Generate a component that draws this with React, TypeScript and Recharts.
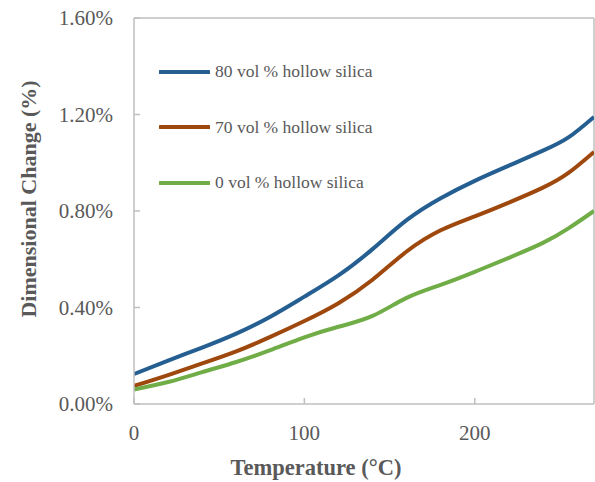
import React from 'react';
import { LineChart, Line, XAxis, YAxis, Legend, ReferenceLine } from 'recharts';

const temps = [0, 20, 40, 60, 80, 100, 120, 140, 160, 180, 200, 220, 240, 255, 270];
const vol80 = [0.124, 0.18, 0.234, 0.292, 0.362, 0.445, 0.533, 0.642, 0.762, 0.853, 0.925, 0.988, 1.05, 1.105, 1.19];
const vol70 = [0.075, 0.12, 0.168, 0.218, 0.278, 0.344, 0.418, 0.515, 0.632, 0.72, 0.778, 0.835, 0.897, 0.958, 1.045];
const vol0 = [0.06, 0.091, 0.132, 0.174, 0.223, 0.276, 0.32, 0.365, 0.44, 0.494, 0.548, 0.606, 0.668, 0.728, 0.8];

const seriesNames = ['80 vol % hollow silica', '70 vol % hollow silica', '0 vol % hollow silica'];
const seriesColors = ['#255E91', '#9E480E', '#70AD47'];
const xTicks = [0, 100, 200];
const yTicks = [0, 0.4, 0.8, 1.2, 1.6];

const data = temps.map((t, i) => ({ t, a: vol80[i], b: vol70[i], c: vol0[i] }));

const FONT = '"Liberation Serif", "Times New Roman", serif';
const GRAY = '#595959';
const AXIS = '#BFBFBF';

const LegendContent = () => (
  <div style={{ fontFamily: FONT, fontSize: 17.5, color: GRAY }}>
    {seriesNames.map((n, i) => (
      <div key={n} style={{ height: 55.6, display: 'flex', alignItems: 'center', whiteSpace: 'nowrap' }}>
        <svg width={51} height={6} style={{ marginRight: 5 }}>
          <line x1={1} y1={3} x2={50} y2={3} stroke={seriesColors[i]} strokeWidth={4} strokeLinecap="round" />
        </svg>
        <span>{n}</span>
      </div>
    ))}
  </div>
);

export default function App() {
  return (
    <div style={{ position: 'absolute', left: 0, top: 0 }}>
      <LineChart width={595} height={482} data={data} margin={{ top: 18, right: 1, bottom: 0, left: 0 }}>
        <XAxis
          dataKey="t"
          type="number"
          domain={[0, 270]}
          ticks={xTicks}
          allowDataOverflow
          height={78}
          stroke={AXIS}
          strokeWidth={1.5}
          tickSize={-6}
          tickMargin={27}
          tick={{ fill: GRAY, fontSize: 21, fontFamily: FONT }}
          label={{
            content: (p: any) => {
              const vb = p.viewBox;
              return (
                <text x={316} y={vb.y + vb.height - 7} textAnchor="middle" fill={GRAY}
                  style={{ fontFamily: FONT, fontSize: 22.5, fontWeight: 'bold' }}>
                  Temperature (°C)
                </text>
              );
            },
          }}
        />
        <YAxis
          type="number"
          domain={[0, 1.6]}
          ticks={yTicks}
          width={134}
          stroke={AXIS}
          strokeWidth={1.5}
          tickSize={-6}
          tickMargin={27}
          tickFormatter={(v: number) => v.toFixed(2) + '%'}
          tick={{ fill: GRAY, fontSize: 21, fontFamily: FONT }}
          label={{
            content: (p: any) => {
              const vb = p.viewBox;
              const cx = 28;
              const cy = vb.y + vb.height / 2 - 12;
              return (
                <text x={cx} y={cy} textAnchor="middle" dominantBaseline="central" fill={GRAY}
                  transform={`rotate(-90 ${cx} ${cy})`}
                  style={{ fontFamily: FONT, fontSize: 22, fontWeight: 'bold' }}>
                  Dimensional Change (%)
                </text>
              );
            },
          }}
        />
        <ReferenceLine y={1.6} stroke={AXIS} strokeWidth={1.5} />
        <ReferenceLine x={270} stroke={AXIS} strokeWidth={1.5} />
        <Legend
          layout="vertical"
          align="center"
          verticalAlign="middle"
          content={<LegendContent />}
          wrapperStyle={{ left: 159, top: 44, width: 260, height: 170 }}
        />
        <Line type="natural" dataKey="a" name={seriesNames[0]} stroke={seriesColors[0]} strokeWidth={4} dot={false} isAnimationActive={false} />
        <Line type="natural" dataKey="b" name={seriesNames[1]} stroke={seriesColors[1]} strokeWidth={4} dot={false} isAnimationActive={false} />
        <Line type="natural" dataKey="c" name={seriesNames[2]} stroke={seriesColors[2]} strokeWidth={4} dot={false} isAnimationActive={false} />
      </LineChart>
    </div>
  );
}
